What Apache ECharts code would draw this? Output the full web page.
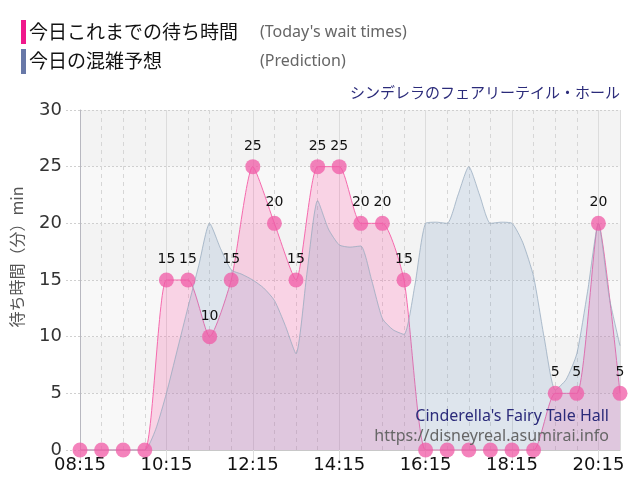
<!DOCTYPE html>
<html>
<head>
<meta charset="utf-8">
<script src="https://cdn.jsdelivr.net/npm/echarts@6/dist/echarts.min.js"></script>
<style>
html,body{margin:0;padding:0;background:#fff;}
#c{width:640px;height:500px;}
</style>
</head>
<body>
<div id="c"></div>
<script>
// Actual wait times, every 30 minutes from 08:15
var actualTimes = ['08:15','08:45','09:15','09:45','10:15','10:45','11:15','11:45','12:15','12:45','13:15','13:45','14:15','14:45','15:15','15:45','16:15','16:45','17:15','17:45','18:15','18:45','19:15','19:45','20:15','20:45'];
var actualValues = [0,0,0,0,15,15,10,15,25,20,15,25,25,20,20,15,0,0,0,0,0,0,5,5,20,5];

// Predicted congestion, every 15 minutes from 08:15
var predTimes = ['08:15','08:30','08:45','09:00','09:15','09:30','09:45','10:00','10:15','10:30','10:45','11:00','11:15','11:30','11:45','12:00','12:15','12:30','12:45','13:00','13:15','13:30','13:45','14:00','14:15','14:30','14:45','15:00','15:15','15:30','15:45','16:00','16:15','16:30','16:45','17:00','17:15','17:30','17:45','18:00','18:15','18:30','18:45','19:00','19:15','19:30','19:45','20:00','20:15','20:30','20:45'];
var predValues = [0,0,0,0,0,0,0,1.8,5,8.8,12.6,16.3,20,17.8,15.9,15.5,15,14.3,13.2,11,8.5,15.5,22,19.5,18.1,17.9,18,15,11.6,10.6,10.2,14.5,20,20.1,20,22.5,25,22.5,20,20.1,20,18.3,15.3,9.8,5.3,6.2,8.5,14,20,13.5,9.2];

var yTicks = [0,5,10,15,20,25,30];

function toMin(t){var p=t.split(':');return +p[0]*60+ +p[1];}
function fmt(m){var h=Math.floor(m/60),mm=m%60;return (h<10?'0':'')+h+':'+(mm<10?'0':'')+mm;}

var actualData = actualTimes.map(function(t,i){return [toMin(t), actualValues[i]];});
var predData = predTimes.map(function(t,i){return [toMin(t), predValues[i]];});

var chart = echarts.init(document.getElementById('c'));
chart.setOption({
  animation:false,
  backgroundColor:'#fff',
  grid:{left:80,right:20,top:110,bottom:50},
  xAxis:{
    type:'value',
    min:toMin('08:15'),
    max:toMin('20:45'),
    interval:120,
    axisLine:{show:true,lineStyle:{color:'#c8c8c8'}},
    axisTick:{show:true,length:12,lineStyle:{color:'#dddddd'}},
    minorTick:{show:false,splitNumber:4},
    axisLabel:{formatter:function(v){return fmt(v);},color:'#111',fontSize:18,fontFamily:'DejaVu Sans',margin:6,showMaxLabel:false},
    splitLine:{show:true,lineStyle:{color:'#dcdcdc',width:1}},
    minorSplitLine:{show:true,lineStyle:{color:'#d6d6d6',type:[4,4],width:1}}
  },
  yAxis:{
    type:'value',
    min:yTicks[0],
    max:yTicks[yTicks.length-1],
    interval:5,
    axisLine:{show:true,lineStyle:{color:'#b8b8c0'}},
    axisTick:{show:true,length:15,lineStyle:{color:'#d0d0d0',type:[2,2]}},
    axisLabel:{color:'#333',fontSize:18,fontFamily:'DejaVu Sans',margin:18},
    splitLine:{show:true,lineStyle:{color:'#cfcfcf',type:[2,2]}},
    splitArea:{show:true,areaStyle:{color:['#f8f8f8','#f3f3f3']}}
  },
  series:[
    {
      name:'actualArea',type:'line',data:actualData,smooth:0.2,
      symbol:'none',
      lineStyle:{color:'#f56aad',width:1},
      areaStyle:{color:'rgba(255,90,170,0.33)',origin:'start'},
      z:2
    },
    {
      name:'pred',type:'line',data:predData,smooth:0.2,
      symbol:'none',
      lineStyle:{color:'rgba(150,170,190,0.75)',width:1},
      areaStyle:{color:'rgba(110,150,190,0.27)',origin:'start'},
      z:3
    },
    {
      name:'actualPts',type:'line',data:actualData,smooth:0.2,
      symbol:'circle',symbolSize:15,
      lineStyle:{opacity:0},
      itemStyle:{color:'rgba(240,90,165,0.75)'},
      label:{show:true,position:'top',distance:6,color:'#111',fontSize:14,fontFamily:'DejaVu Sans',
        formatter:function(p){return p.value[1]>0?p.value[1]:'';}},
      z:4
    }
  ],
  graphic:[
    {type:'rect',shape:{x:21,y:20,width:5,height:24},style:{fill:'#f0188c'}},
    {type:'text',style:{x:29,y:32,text:'今日これまでの待ち時間',fill:'#111',fontSize:19,fontFamily:'Noto Sans CJK JP',verticalAlign:'middle'}},
    {type:'text',style:{x:260,y:32,text:"(Today's wait times)",fill:'#666',fontSize:16,fontFamily:'Noto Sans',verticalAlign:'middle'}},
    {type:'rect',shape:{x:21,y:49,width:5,height:25},style:{fill:'#6878a8'}},
    {type:'text',style:{x:29,y:61,text:'今日の混雑予想',fill:'#111',fontSize:19,fontFamily:'Noto Sans CJK JP',verticalAlign:'middle'}},
    {type:'text',style:{x:260,y:61,text:'(Prediction)',fill:'#666',fontSize:16,fontFamily:'Noto Sans',verticalAlign:'middle'}},
    {type:'text',style:{x:620,y:92,text:'シンデレラのフェアリーテイル・ホール',fill:'#2b2b7a',fontSize:15,fontFamily:'Noto Sans CJK JP',align:'right',verticalAlign:'middle'}},
    {type:'text',rotation:Math.PI/2,x:17,y:257,style:{x:0,y:0,text:'待ち時間（分）min',fill:'#555',fontSize:16,fontFamily:'Noto Sans CJK JP',align:'center',verticalAlign:'middle'},z:10},
    {type:'text',style:{x:609,y:416,text:"Cinderella's Fairy Tale Hall",fill:'#2b2b7a',fontSize:16,fontFamily:'Noto Sans',align:'right',verticalAlign:'middle'},z:10},
    {type:'text',style:{x:609,y:436,text:'https://disneyreal.asumirai.info',fill:'#666',fontSize:16,fontFamily:'Noto Sans',align:'right',verticalAlign:'middle'},z:10}
  ]
});
</script>
</body>
</html>
